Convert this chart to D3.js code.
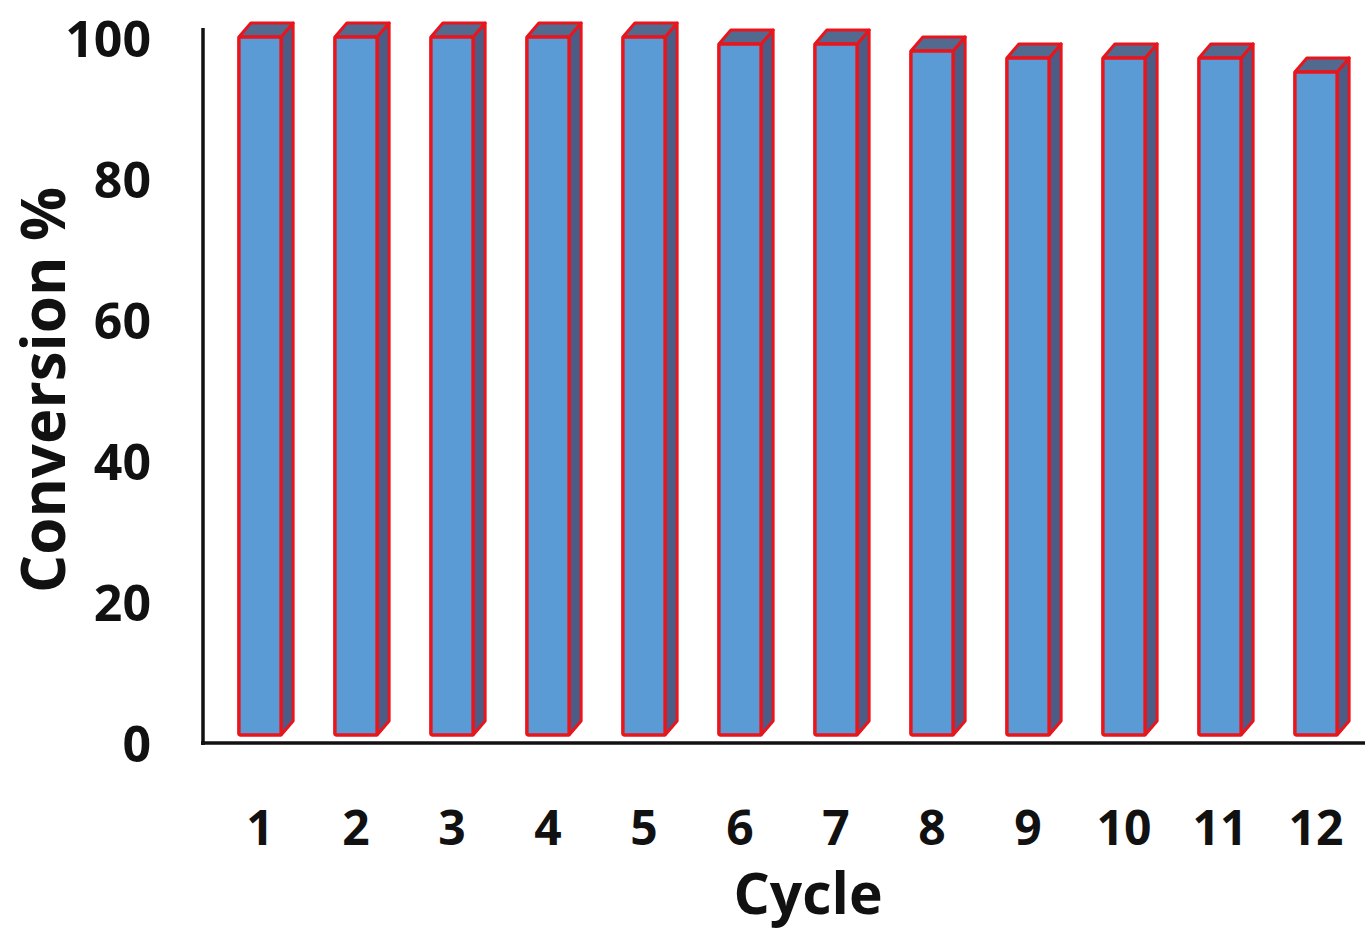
<!DOCTYPE html>
<html>
<head>
<meta charset="utf-8">
<script src="https://cdn.jsdelivr.net/npm/d3@7"></script>
<style>
  body { margin: 0; background: #fff; }
  text { font-family: "Open Sans", Lato, sans-serif; font-weight: bold; fill: #111; }
</style>
</head>
<body>
<script>
// data
const cycles = ["1", "2", "3", "4", "5", "6", "7", "8", "9", "10", "11", "12"];
const conversion = [100, 100, 100, 100, 100, 99, 99, 98, 97, 97, 97, 95];
const yTicks = [0, 20, 40, 60, 80, 100];

let width = 1367,
    height = 934;

// depth of the 3d look
let dx = 12, dy = 14;

let svg = d3.select('body')
            .append('svg')
            .attr('width', width)
            .attr('height', height);

let xScale = d3.scaleBand()
              .domain(cycles)
              .range([212, 1364])
              .paddingInner(0.56)
              .paddingOuter(0.28);

// bars sit on the front of the floor
let yScale = d3.scaleLinear()
              .domain([0, 100])
              .range([735, 37]);

// the wall the labels belong to
let yWall = d3.scaleLinear()
              .domain([0, 100])
              .range([745, 40]);

// bars: side, top, front
let bars = svg.selectAll('.bar')
  .data(cycles.map((c, i) => ({cycle: c, value: conversion[i]})))
  .enter()
  .append('g')
  .attr('class', 'bar');

bars.append('path')
  .attr('d', d => {
    let x1 = xScale(d.cycle) + xScale.bandwidth(),
        y0 = yScale(0), y1 = yScale(d.value);
    return `M${x1},${y1} L${x1 + dx},${y1 - dy} L${x1 + dx},${y0 - dy} L${x1},${y0} Z`;
  })
  .attr('fill', '#4b5d86')
  .attr('stroke', '#e8161c')
  .attr('stroke-width', 3)
  .attr('stroke-linejoin', 'round');

bars.append('path')
  .attr('d', d => {
    let x0 = xScale(d.cycle), x1 = x0 + xScale.bandwidth(),
        y1 = yScale(d.value);
    return `M${x0},${y1} L${x0 + dx},${y1 - dy} L${x1 + dx},${y1 - dy} L${x1},${y1} Z`;
  })
  .attr('fill', '#536a90')
  .attr('stroke', '#e8161c')
  .attr('stroke-width', 3)
  .attr('stroke-linejoin', 'round');

bars.append('rect')
  .attr('x', d => xScale(d.cycle))
  .attr('y', d => yScale(d.value))
  .attr('width', xScale.bandwidth())
  .attr('height', d => yScale(0) - yScale(d.value))
  .attr('rx', 2)
  .attr('fill', '#5b9bd5')
  .attr('stroke', '#e8161c')
  .attr('stroke-width', 3.5);

// axis lines
svg.append('line')
  .attr('x1', 203).attr('x2', 203)
  .attr('y1', yWall(100) - 12).attr('y2', yWall(0))
  .attr('stroke', '#111').attr('stroke-width', 3.5);

svg.append('line')
  .attr('x1', 201).attr('x2', 1365)
  .attr('y1', yWall(0) - 2).attr('y2', yWall(0) - 2)
  .attr('stroke', '#111').attr('stroke-width', 3.5);

// tick labels
let yAxis = svg.append('g')
  .attr('transform', 'translate(203, 0)')
  .call(d3.axisLeft(yWall).tickValues(yTicks).tickSize(0).tickPadding(52));
yAxis.select('.domain').remove();
yAxis.selectAll('text')
  .style('font-size', '50px')
  .style('font-family', '"Open Sans", sans-serif')
  .style('font-weight', 'bold')
  .attr('fill', '#111');

let xAxis = svg.append('g')
  .attr('transform', `translate(0, ${yScale(0)})`)
  .call(d3.axisBottom(xScale).tickSize(0).tickPadding(76));
xAxis.select('.domain').remove();
xAxis.selectAll('text')
  .style('font-size', '48px')
  .style('font-family', '"Open Sans", sans-serif')
  .style('font-weight', 'bold')
  .attr('fill', '#111');

// titles
svg.append('text')
  .attr('x', 808)
  .attr('y', 914)
  .text('Cycle')
  .style('font-size', '57px')
  .style('text-anchor', 'middle');

svg.append('text')
  .attr('transform', 'translate(65, 390) rotate(-90)')
  .text('Conversion %')
  .style('font-size', '60px')
  .style('text-anchor', 'middle');
</script>
</body>
</html>
